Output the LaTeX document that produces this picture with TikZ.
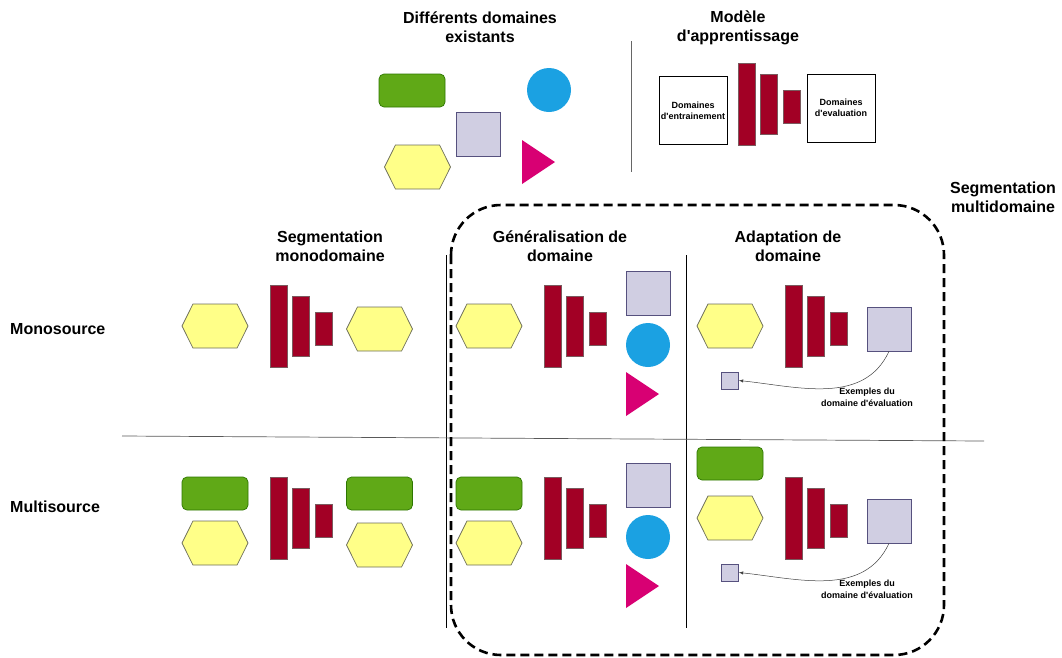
\documentclass[tikz,border=0pt]{standalone}
\usepackage{fontspec}
\setmainfont{Liberation Sans}
\usetikzlibrary{shapes,arrows,positioning}
\definecolor{grnfill}{HTML}{60A917}
\definecolor{grnline}{HTML}{2D7600}
\definecolor{bluefill}{HTML}{1BA1E2}
\definecolor{lavfill}{HTML}{D0CEE2}
\definecolor{lavline}{HTML}{56517E}
\definecolor{hexfill}{HTML}{FFFF88}
\definecolor{hexline}{HTML}{6D6E5A}
\definecolor{magfill}{HTML}{D80073}
\definecolor{barfill}{HTML}{A20025}
\definecolor{barline}{HTML}{7A5A5E}
\tikzstyle{hexa}=[signal,signal to=east and west,signal pointer angle=127,draw=hexline,fill=hexfill,minimum width=66pt,minimum height=44pt,inner sep=0pt,line width=0.7pt]
\tikzstyle{grnbox}=[rectangle,rounded corners=5pt,draw=grnline,fill=grnfill,minimum width=66pt,minimum height=33pt,inner sep=0pt,line width=0.7pt]
\tikzstyle{lavsq}=[rectangle,draw=lavline,fill=lavfill,minimum size=44pt,inner sep=0pt,line width=0.7pt]
\tikzstyle{lavmini}=[lavsq,minimum size=17pt]
\tikzstyle{bluedisc}=[circle,fill=bluefill,minimum size=44pt,inner sep=0pt]
\tikzstyle{magtri}=[isosceles triangle,isosceles triangle stretches,fill=magfill,minimum width=44pt,minimum height=33pt,inner sep=0pt,outer sep=0pt]
\tikzstyle{bar}=[rectangle,draw=barline,fill=barfill,minimum width=17pt,inner sep=0pt,line width=0.7pt]
\tikzstyle{bara}=[bar,minimum height=82pt]
\tikzstyle{barb}=[bar,minimum height=60pt]
\tikzstyle{barc}=[bar,minimum height=33pt,yshift=-2.5pt]
\tikzstyle{dombox}=[rectangle,draw,minimum width=68pt,minimum height=68pt,inner sep=1pt,align=center,font=\fontsize{9}{11}\selectfont\bfseries]
\tikzstyle{head}=[align=center,inner sep=0pt,font=\fontsize{16}{19}\selectfont\bfseries]
\tikzstyle{note}=[align=center,inner sep=0pt,font=\fontsize{9}{12}\selectfont\bfseries]
\tikzstyle{sep}=[line width=0.7pt]
\tikzstyle{arr}=[-latex,line width=0.5pt,black!75]

\begin{document}
\begin{tikzpicture}[x=1pt,y=-1pt]
\useasboundingbox (0,0) rectangle (1062,657);
% titles
\node[head] (tdom) at (480,27.5) {Différents domaines\\existants};
\node[head] (tmod) at (738,27.5) {Modèle\\d\textquotesingle apprentissage};
\node[head] (tmulti) at (1003,197.5) {Segmentation\\multidomaine};
\node[head] (tmono) at (330,246.5) {Segmentation\\monodomaine};
\node[head] (tgen) at (560,246.5) {Généralisation de\\domaine};
\node[head] (tada) at (788,246.5) {Adaptation de\\domaine};
\node[head,anchor=west] (rmono) at (10,329) {Monosource};
\node[head,anchor=west] (rmulti) at (10,507) {Multisource};

% existing domains
\node[grnbox] (g0) at (412,90.5) {};
\node[bluedisc] (c0) at (549,90) {};
\node[lavsq] (s0) at (478,134) {};
\node[hexa] (h0) at (417.5,167) {};
\node[magtri,anchor=lower side] (t0) at (522,162) {};

% model
\node[dombox] (dtrain) at (693,110.5) {Domaines\\d\textquotesingle entrainement};
\node[bara] (m0a) at (746.5,104) {};
\node[barb,right=5pt of m0a] (m0b) {};
\node[barc,right=5pt of m0b] (m0c) {};
\node[dombox] (deval) at (841,108) {Domaines\\d\textquotesingle evaluation};

% monosource
\node[hexa] (h1) at (215,326) {};
\node[bara] (m1a) at (278.5,326) {};
\node[barb,right=5pt of m1a] (m1b) {};
\node[barc,right=5pt of m1b] (m1c) {};
\node[hexa] (h2) at (379.5,329) {};

\node[hexa] (h3) at (489,326) {};
\node[bara] (m2a) at (552.5,326) {};
\node[barb,right=5pt of m2a] (m2b) {};
\node[barc,right=5pt of m2b] (m2c) {};
\node[lavsq] (s1) at (648,293) {};
\node[bluedisc] (c1) at (648,345) {};
\node[magtri,anchor=lower side] (t1) at (626,394) {};

\node[hexa] (h4) at (730,326) {};
\node[bara] (m3a) at (793.5,326) {};
\node[barb,right=5pt of m3a] (m3b) {};
\node[barc,right=5pt of m3b] (m3c) {};
\node[lavsq] (s2) at (889,329) {};
\node[lavmini] (ss1) at (730,380.5) {};
\node[note] (n1) at (867,397) {Exemples du\\domaine d\textquotesingle évaluation};
\draw[arr] (s2.south) to[out=-115,in=-6] (ss1.east);

% multisource
\node[grnbox] (g1) at (215,493.5) {};
\node[hexa] (h5) at (215,543) {};
\node[bara] (m4a) at (278.5,518) {};
\node[barb,right=5pt of m4a] (m4b) {};
\node[barc,right=5pt of m4b] (m4c) {};
\node[grnbox] (g2) at (379.5,493.5) {};
\node[hexa] (h6) at (379.5,545) {};

\node[grnbox] (g3) at (489,493.5) {};
\node[hexa] (h7) at (489,543) {};
\node[bara] (m5a) at (552.5,518) {};
\node[barb,right=5pt of m5a] (m5b) {};
\node[barc,right=5pt of m5b] (m5c) {};
\node[lavsq] (s3) at (648,485) {};
\node[bluedisc] (c2) at (648,537) {};
\node[magtri,anchor=lower side] (t2) at (626,586) {};

\node[grnbox] (g4) at (730,463.5) {};
\node[hexa] (h8) at (730,518) {};
\node[bara] (m6a) at (793.5,518) {};
\node[barb,right=5pt of m6a] (m6b) {};
\node[barc,right=5pt of m6b] (m6c) {};
\node[lavsq] (s4) at (889,521) {};
\node[lavmini] (ss2) at (730,572.5) {};
\node[note] (n2) at (867,589) {Exemples du\\domaine d\textquotesingle évaluation};
\draw[arr] (s4.south) to[out=-115,in=-6] (ss2.east);

% separators
\coordinate (vtop1) at (631,41);
\coordinate (vtop2) at (631,172);
\coordinate (va1) at (446,255);
\coordinate (va2) at (446,628);
\coordinate (vb1) at (686,255);
\coordinate (vb2) at (686,628);
\coordinate (hl) at (122,436);
\coordinate (hr) at (984,441);
\draw[sep,black!60] (vtop1) -- (vtop2);
\draw[sep] (va1) -- (va2);
\draw[sep] (vb1) -- (vb2);
\draw[sep,black!65] (hl) -- (hr);
\draw[line width=2.6pt,dash pattern=on 9pt off 5pt,rounded corners=50pt] (451,205) rectangle (944,655);
\end{tikzpicture}
\end{document}
